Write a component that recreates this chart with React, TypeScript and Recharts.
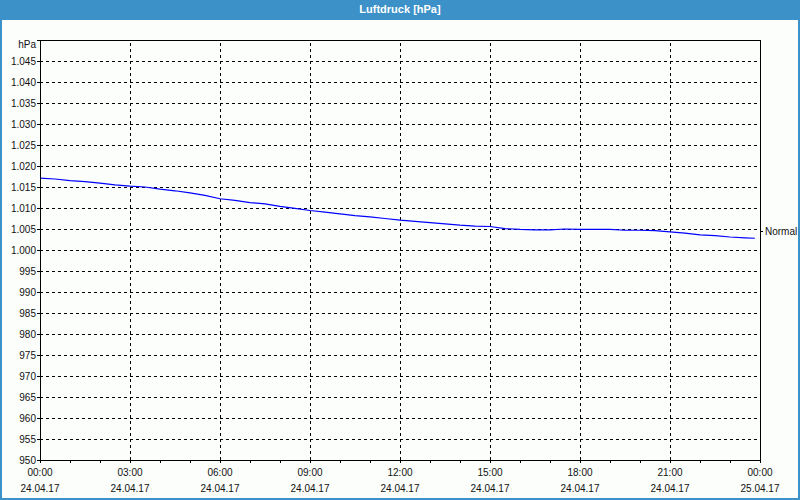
import React from 'react';
import { LineChart, Line, XAxis, YAxis, ReferenceLine } from 'recharts';

// hours since 24.04.17 00:00 and air pressure in hPa (half-hourly readings)
const hours = [
    0, 0.5, 1, 1.5, 2, 2.5, 3, 3.5, 4, 4.5, 5, 5.5, 6, 6.5, 7, 7.5, 8, 8.5, 9, 9.5,
    10, 10.5, 11, 11.5, 12, 12.5, 13, 13.5, 14, 14.5, 15, 15.5, 16, 16.5, 17, 17.5,
    18, 18.5, 19, 19.5, 20, 20.5, 21, 21.5, 22, 22.5, 23, 23.5, 23.83,
];
const pressure = [
    1017.1, 1016.9, 1016.5, 1016.3, 1015.9, 1015.5, 1015.2, 1015.0, 1014.5, 1014.1,
    1013.6, 1013.0, 1012.2, 1011.8, 1011.3, 1011.0, 1010.4, 1009.9, 1009.4, 1009.0,
    1008.6, 1008.2, 1007.9, 1007.5, 1007.1, 1006.8, 1006.5, 1006.2, 1005.9, 1005.7,
    1005.6, 1005.1, 1004.9, 1004.8, 1004.8, 1005.0, 1004.9, 1004.9, 1004.9, 1004.7,
    1004.7, 1004.6, 1004.3, 1004.0, 1003.6, 1003.4, 1003.1, 1002.9, 1002.8,
];

const hourTicks = [0, 1, 2, 3, 4, 5, 6, 7, 8, 9, 10, 11, 12, 13, 14, 15, 16, 17, 18, 19, 20, 21, 22, 23, 24];
const majorHours = [0, 3, 6, 9, 12, 15, 18, 21, 24];
const timeLabels = ['00:00', '03:00', '06:00', '09:00', '12:00', '15:00', '18:00', '21:00', '00:00'];
const dateLabels = ['24.04.17', '24.04.17', '24.04.17', '24.04.17', '24.04.17', '24.04.17', '24.04.17', '24.04.17', '25.04.17'];
const gridHours = [3, 6, 9, 12, 15, 18, 21];

const pressureTicks = [
    950, 955, 960, 965, 970, 975, 980, 985, 990, 995, 1000,
    1005, 1010, 1015, 1020, 1025, 1030, 1035, 1040, 1045, 1050,
];
const gridPressures = [
    955, 960, 965, 970, 975, 980, 985, 990, 995, 1000,
    1005, 1010, 1015, 1020, 1025, 1030, 1035, 1040, 1045,
];
const normalLevel = 1005;

const data = hours.map((h, i) => ({ h, p: pressure[i] }));

const FONT = "'Liberation Sans', Arial, sans-serif";

function fmtPressure(v: number) {
    if (v >= 1050) return 'hPa';
    if (v >= 1000) return `${Math.floor(v / 1000)}.${String(v % 1000).padStart(3, '0')}`;
    return String(v);
}

function TimeTick(props: any) {
    const { x, y, payload } = props;
    const idx = majorHours.indexOf(payload.value);
    if (idx < 0) return null;
    return (
        <g>
            <text x={x} y={y + 11} textAnchor="middle" fontSize={10} fontFamily={FONT} fill="#111">
                {timeLabels[idx]}
            </text>
            <text x={x} y={y + 27} textAnchor="middle" fontSize={10} fontFamily={FONT} fill="#111">
                {dateLabels[idx]}
            </text>
        </g>
    );
}

function PressureTick(props: any) {
    const { x, y, payload } = props;
    const top = payload.value >= 1050;
    return (
        <text x={x} y={y + (top ? 4 : 0)} dy={3.5} textAnchor="end" fontSize={10} fontFamily={FONT} fill="#111">
            {fmtPressure(payload.value)}
        </text>
    );
}

function NormalLabel(props: any) {
    const vb = props.viewBox || {};
    const x = (vb.x || 0) + (vb.width || 0);
    const y = (vb.y || 0);
    return (
        <g>
            <line x1={x} x2={x + 3} y1={y + 2} y2={y + 2} stroke="#000" shapeRendering="crispEdges" />
            <text x={x + 5} y={y + 2} dy={3.5} textAnchor="start" fontSize={10} fontFamily={FONT} fill="#111">
                Normal
            </text>
        </g>
    );
}

export default function App() {
    return (
        <div style={{ position: 'fixed', left: 0, top: 0, width: 800, height: 500, background: '#fcfefc', fontFamily: FONT }}>
            <div
                style={{
                    position: 'absolute', left: 0, top: 0, width: 800, height: 20, background: '#3c91c8',
                    color: '#fff', fontWeight: 'bold', fontSize: 11, textAlign: 'center', lineHeight: '19px',
                }}
            >
                Luftdruck [hPa]
            </div>
            <div style={{ position: 'absolute', left: 0, top: 20 }}>
                <LineChart width={800} height={480} data={data} margin={{ top: 20, right: 40, bottom: 0, left: 0 }}>
                    {gridPressures.map((p) => (
                        <ReferenceLine
                            key={'p' + p}
                            y={p}
                            xAxisId="bottom"
                            yAxisId="left"
                            stroke="#000"
                            strokeDasharray="3 3"
                            shapeRendering="crispEdges"
                            label={p === normalLevel ? <NormalLabel /> : undefined}
                        />
                    ))}
                    {gridHours.map((g) => (
                        <ReferenceLine key={'h' + g} x={g} xAxisId="bottom" yAxisId="left" stroke="#000" strokeDasharray="3 3" shapeRendering="crispEdges" />
                    ))}
                    <ReferenceLine y={1050} xAxisId="bottom" yAxisId="left" stroke="#000" shapeRendering="crispEdges" />
                    <ReferenceLine x={24} xAxisId="bottom" yAxisId="left" stroke="#000" shapeRendering="crispEdges" />
                    <XAxis
                        xAxisId="bottom"
                        dataKey="h"
                        type="number"
                        domain={[0, 24]}
                        ticks={hourTicks}
                        interval={0}
                        height={40}
                        axisLine={{ stroke: '#000', shapeRendering: 'crispEdges' }}
                        tickLine={{ stroke: '#000', shapeRendering: 'crispEdges' }}
                        tickSize={3}
                        tickMargin={2}
                        tick={<TimeTick />}
                    />
                    <YAxis
                        yAxisId="left"
                        domain={[950, 1050]}
                        ticks={pressureTicks}
                        interval={0}
                        width={40}
                        axisLine={{ stroke: '#000', shapeRendering: 'crispEdges' }}
                        tickLine={{ stroke: '#000', shapeRendering: 'crispEdges' }}
                        tickSize={3}
                        tickMargin={1}
                        tick={<PressureTick />}
                    />
                    <Line
                        xAxisId="bottom"
                        yAxisId="left"
                        type="linear"
                        dataKey="p"
                        stroke="#0000ff"
                        strokeWidth={1.2}
                        dot={false}
                        isAnimationActive={false}
                    />
                </LineChart>
            </div>
            <div style={{ position: 'absolute', left: 0, top: 0, width: 800, height: 500, boxSizing: 'border-box', border: '2px solid #3c91c8', borderTop: 'none', pointerEvents: 'none' }} />
        </div>
    );
}
